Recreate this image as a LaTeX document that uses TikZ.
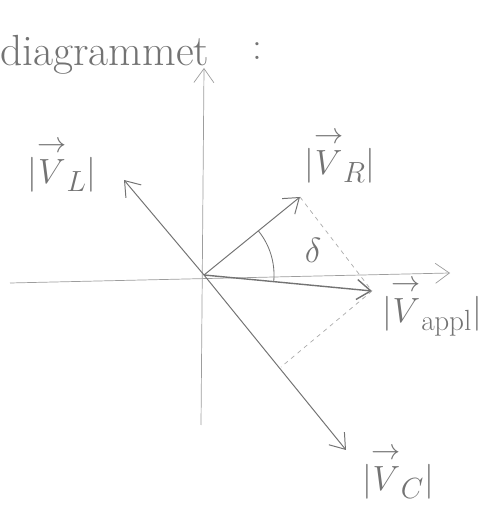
\documentclass[tikz,border=0pt]{standalone}
\usepackage{amsmath}
\usepackage{xcolor}
\usetikzlibrary{arrows.meta}

\definecolor{pencil}{gray}{0.45}
\newcommand{\phasorV}{\overset{\scriptstyle\rightarrow}{V}}

\begin{document}
\begin{tikzpicture}[
  x=0.025cm, y=0.025cm,
  axis/.style={draw=pencil!70, line width=0.5pt},
  phasor/.style={draw=pencil, line width=0.7pt,
    -{Straight Barb[length=3.5mm,width=5mm]}},
  helper/.style={draw=pencil!60, line width=0.5pt, dashed},
  vlabel/.style={text=pencil, font=\Huge}
]
\useasboundingbox (0,0) rectangle (487,512);

% axes
\coordinate (O) at (204,237);
\coordinate (ytop) at (204,444);
\coordinate (ybot) at (201,87);
\coordinate (xleft) at (10,229);
\coordinate (xright) at (450,239);
\draw[axis, -{Straight Barb[length=3.5mm,width=5mm]}] (ybot) -- (ytop);
\draw[axis, -{Straight Barb[length=3.5mm,width=5mm]}] (xleft) -- (xright);

% phasor tips
\coordinate (L) at (124,332);
\coordinate (R) at (300,315);
\coordinate (appl) at (372,221);
\coordinate (C) at (346,62);
\coordinate (foot) at (281,145);

\draw[phasor] (O) -- (L);
\draw[phasor] (O) -- (R);
\draw[phasor, line width=1pt] (O) -- (appl);
\draw[phasor] (O) -- (C);

% construction lines
\draw[helper] (R) -- (appl);
\draw[helper] (appl) -- (foot);

% angle
\draw[draw=pencil, line width=0.6pt] (O) ++(39:1.75cm) arc[start angle=39, end angle=-5, radius=1.75cm];
\node[vlabel] (delta) at (313,262) {$\delta$};

% labels
\node[text=pencil, font=\fontsize{31}{33}\selectfont, anchor=base west, inner sep=0pt] (title) at (0,446) {diagrammet};
\node[text=pencil, font=\fontsize{28}{30}\selectfont, anchor=base] (colon) at (257,452) {:};
\node[vlabel] (lblL) at (62,347) {$|\phasorV_L|$};
\node[vlabel] (lblR) at (340,356) {$|\phasorV_R|$};
\node[vlabel] (lblappl) at (432,205) {$|\phasorV_{\mathrm{appl}}|$};
\node[vlabel] (lblC) at (398,40) {$|\phasorV_C|$};
\end{tikzpicture}
\end{document}
